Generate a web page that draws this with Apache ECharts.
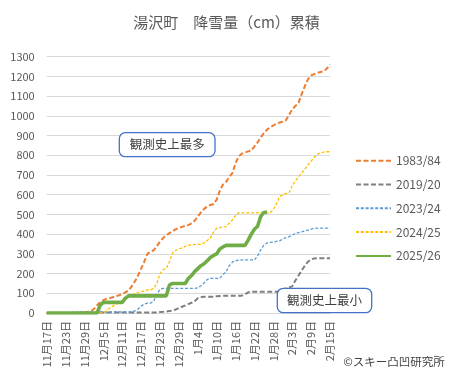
<!DOCTYPE html>
<html>
<head>
<meta charset="utf-8">
<script src="https://cdn.jsdelivr.net/npm/echarts@6/dist/echarts.min.js"></script>
<style>
html,body{margin:0;padding:0;background:#fff;}
#chart{width:453px;height:381px;}
</style>
</head>
<body>
<div id="chart"></div>
<script>
const categories = [
  '11月17日','11月18日','11月19日','11月20日','11月21日','11月22日','11月23日','11月24日','11月25日','11月26日','11月27日','11月28日','11月29日','11月30日',
  '12月1日','12月2日','12月3日','12月4日','12月5日','12月6日','12月7日','12月8日','12月9日','12月10日','12月11日','12月12日','12月13日','12月14日','12月15日','12月16日','12月17日','12月18日','12月19日','12月20日','12月21日','12月22日','12月23日','12月24日','12月25日','12月26日','12月27日','12月28日','12月29日','12月30日','12月31日',
  '1月1日','1月2日','1月3日','1月4日','1月5日','1月6日','1月7日','1月8日','1月9日','1月10日','1月11日','1月12日','1月13日','1月14日','1月15日','1月16日','1月17日','1月18日','1月19日','1月20日','1月21日','1月22日','1月23日','1月24日','1月25日','1月26日','1月27日','1月28日','1月29日','1月30日','1月31日',
  '2月1日','2月2日','2月3日','2月4日','2月5日','2月6日','2月7日','2月8日','2月9日','2月10日','2月11日','2月12日','2月13日','2月14日','2月15日'
];

const seriesNames = ['1983/84','2019/20','2023/24','2024/25','2025/26'];

const s1983 = [0,0,0,0,0,0,0,0,0,0,0,0,
  2,5,8,20,40,55,65,72,75,80,85,90,95,105,115,135,160,190,225,260,300,312,318,340,362,380,395,405,415,425,432,437,442,446,455,468,490,510,528,540,548,553,575,620,652,665,690,710,760,795,808,815,820,825,845,865,890,912,930,942,952,960,966,970,978,1005,1033,1050,1066,1110,1150,1185,1205,1212,1218,1222,1226,1240,1260];

const s2019 = [0,0,0,0,0,0,0,0,0,0,0,0,0,0,0,0,0,
  3,3,3,3,3,3,3,3,3,3,3,3,3,3,3,3,3,3,3,
  5,6,8,10,12,18,25,32,38,45,52,60,75,80,
  83,83,83,83,85,86,87,88,88,88,88,88,88,95,105,
  108,108,108,108,108,108,108,108,108,
  112,118,125,130,135,165,190,215,240,260,272,277,
  278,278,278,278,278];

const s2023 = [0,0,0,0,0,0,0,0,2,3,
  5,5,5,5,5,5,5,5,5,5,5,5,5,5,5,5,5,
  8,10,20,35,45,50,50,60,95,120,
  125,125,125,125,125,125,125,125,125,125,125,
  128,138,152,170,176,176,176,176,
  195,210,240,258,265,268,
  269,269,269,269,269,
  290,320,345,355,358,360,363,366,375,382,387,395,404,408,412,416,421,425,
  430,430,430,430,430,430];

const s2024 = [0,0,0,0,0,0,0,0,0,0,0,0,0,0,0,0,0,0,
  2,10,25,35,45,50,60,78,88,93,98,103,108,113,117,117,125,150,200,220,225,260,305,318,325,330,338,343,346,347,348,348,355,368,380,410,430,433,436,438,455,472,495,
  508,508,508,508,508,508,508,508,508,508,508,
  525,555,590,600,605,610,645,670,690,710,730,750,770,790,805,812,816,818,818];

const s2025 = [0,0,0,0,0,0,0,0,0,0,0,0,0,0,0,0,0,
  40,54,54,54,54,54,54,54,
  75,
  87,87,87,87,87,87,87,87,87,87,87,87,87,
  142,150,150,150,150,150,
  175,190,210,225,240,250,265,282,292,300,325,335,
  343,343,343,343,343,343,343,
  370,400,425,440,490,510,512];

const yTicks = {min:0, max:1300, interval:100};

const FONT = '"Noto Sans CJK JP", "Noto Sans", sans-serif';
const chart = echarts.init(document.getElementById('chart'), null, {renderer:'canvas'});

const styles = [
  {color:'#ED7D31', width:2, type:[5,2.5]},
  {color:'#7F7F7F', width:2, type:[5,2.5]},
  {color:'#5B9BD5', width:1.3, type:[3,1.8]},
  {color:'#FFC000', width:1.3, type:[3,1.8]},
  {color:'#70AD47', width:3.6, type:'solid'}
];
const dataList = [s1983, s2019, s2023, s2024, s2025];

chart.setOption({
  animation:false,
  textStyle:{fontFamily:FONT},
  title:{
    text:'湯沢町　降雪量（cm）累積',
    left:'center', top:15, padding:0,
    textStyle:{fontSize:15, fontWeight:'normal', color:'#595959', fontFamily:FONT}
  },
  grid:{left:46.7, right:123, top:56.7, bottom:68, containLabel:false},
  legend:{
    orient:'vertical', left:350, top:149.7,
    itemWidth:35, itemHeight:14, itemGap:11.8,
    itemStyle:{opacity:0, borderWidth:0},
    textStyle:{fontSize:12, color:'#595959', fontFamily:FONT},
    data:seriesNames
  },
  xAxis:{
    type:'category', data:categories, boundaryGap:false,
    axisLine:{lineStyle:{color:'#D9D9D9'}},
    axisTick:{show:false},
    axisLabel:{rotate:90, interval:5, fontSize:11, color:'#595959', margin:8, fontFamily:FONT}
  },
  yAxis:{
    type:'value', min:yTicks.min, max:yTicks.max, interval:yTicks.interval,
    axisLine:{show:false}, axisTick:{show:false},
    axisLabel:{fontSize:11, color:'#595959', margin:12, fontFamily:FONT, formatter:v=>String(v)},
    splitLine:{lineStyle:{color:'#D9D9D9', width:1}}
  },
  series: seriesNames.map((n,i)=>({
    name:n, type:'line', data:dataList[i], symbol:'none',
    color:styles[i].color,
    lineStyle:{color:styles[i].color, width:styles[i].width, type:styles[i].type},
    z: 2+i
  })),
  graphic:[
    {type:'rect', z:100, shape:{x:119.3, y:132.7, width:95.7, height:24, r:6},
     style:{fill:'#fff', stroke:'#4472C4', lineWidth:1.3}},
    {type:'text', z:101, x:167.2, y:144.7,
     style:{text:'観測史上最多', fontSize:12.5, fill:'#404040', align:'center', verticalAlign:'middle', fontFamily:FONT}},
    {type:'rect', z:100, shape:{x:277.3, y:288.3, width:94.4, height:24.4, r:6},
     style:{fill:'#fff', stroke:'#4472C4', lineWidth:1.3}},
    {type:'text', z:101, x:324.5, y:300.5,
     style:{text:'観測史上最小', fontSize:12.5, fill:'#404040', align:'center', verticalAlign:'middle', fontFamily:FONT}},
    {type:'text', z:101, x:394, y:362,
     style:{text:'©スキー凸凹研究所', fontSize:11.5, fill:'#404040', align:'center', verticalAlign:'middle', fontFamily:FONT}}
  ]
});
</script>
</body>
</html>
